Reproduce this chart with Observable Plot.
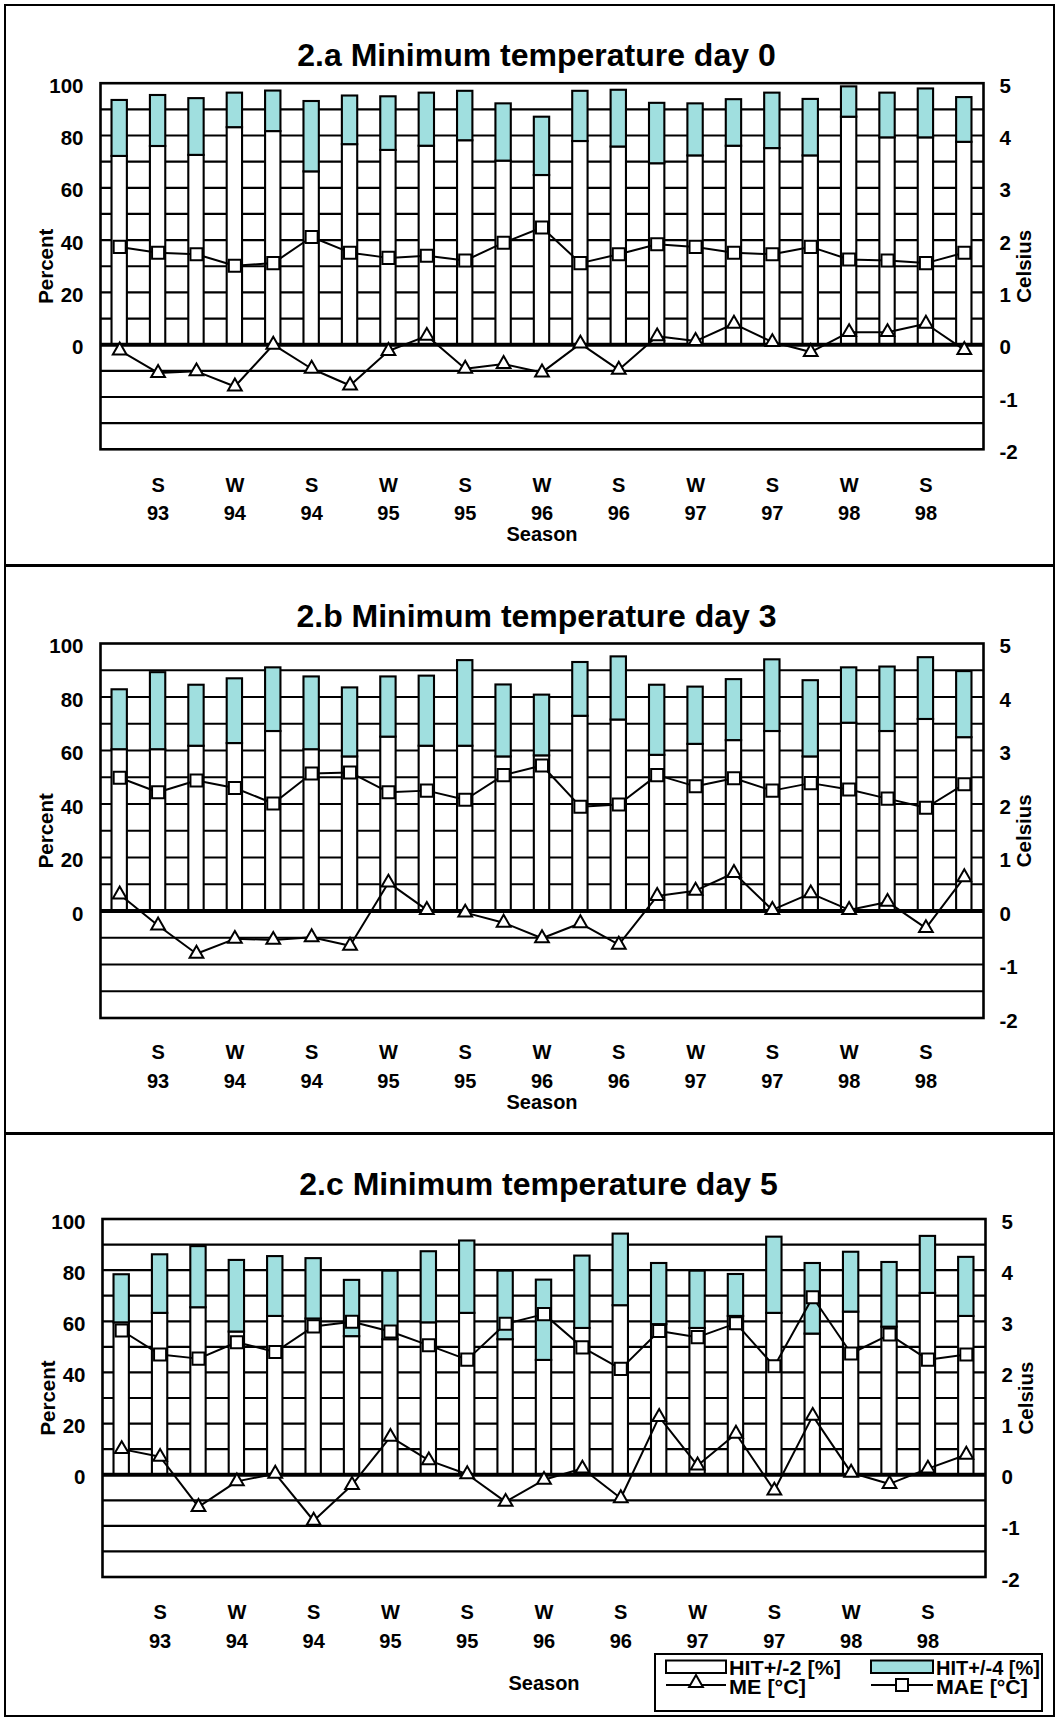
<!DOCTYPE html>
<html>
<head>
<meta charset="utf-8">
<script src="https://cdn.jsdelivr.net/npm/d3@7"></script>
<script src="https://cdn.jsdelivr.net/npm/@observablehq/plot@0.6"></script>
<style>
  body { margin: 0; background: #fff; }
  #page { position: relative; width: 1058px; height: 1719px; background: #fff;
          font-family: "Liberation Sans", Arial, sans-serif; font-weight: bold; }
  .box { position: absolute; border: 2px solid #000; box-sizing: border-box; pointer-events: none; }
  svg.chart { position: absolute; left: 0; }
</style>
</head>
<body>
<div id="page"></div>
<script>
// ---------- categories and tick labels ----------
const periods = ["P01","P02","P03","P04","P05","P06","P07","P08","P09","P10","P11","P12",
                 "P13","P14","P15","P16","P17","P18","P19","P20","P21","P22","P23"];
const labelPeriods = ["P02","P04","P06","P08","P10","P12","P14","P16","P18","P20","P22"];
const seasonLabels = ["S","W","S","W","S","W","S","W","S","W","S"];
const yearLabels   = ["93","94","94","95","95","96","96","97","97","98","98"];
const percentTicks = [0, 20, 40, 60, 80, 100];
const celsiusTicks = [-2, -1, 0, 1, 2, 3, 4, 5];
const gridPercent  = [-30, -20, -10, 10, 20, 30, 40, 50, 60, 70, 80, 90];
const percentPerDegree = 20; // right axis: 5 °C sits at 100 %

// ---------- 2.a Minimum temperature day 0 ----------
const hit4A = [93.4, 95.3, 94.1, 96.2, 97.0, 93.0, 95.1, 94.8, 96.2, 96.9, 92.1, 87.0,
               96.9, 97.3, 92.3, 92.1, 93.7, 96.2, 93.8, 98.6, 96.2, 97.8, 94.5];
const hit2A = [72.0, 75.8, 72.4, 83.0, 81.5, 66.1, 76.5, 74.3, 75.9, 78.0, 70.2, 64.7,
               77.7, 75.6, 69.2, 72.2, 75.9, 75.0, 72.2, 87.0, 79.1, 79.1, 77.4];
const maeA  = [1.87, 1.76, 1.73, 1.51, 1.56, 2.06, 1.76, 1.66, 1.70, 1.61, 1.95, 2.24,
               1.56, 1.73, 1.92, 1.87, 1.76, 1.73, 1.87, 1.63, 1.61, 1.56, 1.76];
const meA   = [-0.11, -0.54, -0.51, -0.80, 0.00, -0.46, -0.78, -0.12, 0.17, -0.46, -0.37, -0.53,
               0.02, -0.48, 0.16, 0.07, 0.40, 0.05, -0.14, 0.24, 0.24, 0.40, -0.10];

// ---------- 2.b Minimum temperature day 3 ----------
const hit4B = [82.7, 89.1, 84.4, 86.8, 90.9, 87.5, 83.4, 87.5, 87.8, 93.6, 84.5, 80.7,
               92.9, 95.0, 84.4, 83.7, 86.5, 93.9, 86.1, 90.9, 91.2, 94.7, 89.5];
const hit2B = [60.3, 60.3, 61.6, 62.6, 67.1, 60.3, 57.6, 65.0, 61.6, 61.6, 57.6, 58.0,
               72.8, 71.4, 58.2, 62.3, 63.7, 67.1, 57.6, 70.2, 67.1, 71.6, 64.8];
const maeB  = [2.49, 2.22, 2.44, 2.30, 2.01, 2.57, 2.59, 2.22, 2.25, 2.08, 2.54, 2.72,
               1.95, 1.99, 2.54, 2.33, 2.48, 2.25, 2.39, 2.27, 2.10, 1.93, 2.37];
const meB   = [0.31, -0.27, -0.80, -0.52, -0.54, -0.49, -0.65, 0.53, 0.02, -0.03, -0.22, -0.51,
               -0.23, -0.63, 0.28, 0.38, 0.71, 0.02, 0.33, 0.02, 0.17, -0.32, 0.63];

// ---------- 2.c Minimum temperature day 5 ----------
const hit4C = [78.2, 86.0, 89.2, 83.8, 85.3, 84.5, 76.0, 79.6, 87.2, 91.4, 79.6, 76.1,
               85.5, 94.1, 82.6, 79.6, 78.3, 92.9, 82.6, 87.0, 83.0, 93.2, 85.0];
const hit2C = [59.4, 63.1, 65.3, 55.8, 61.9, 60.9, 54.0, 52.8, 59.4, 63.1, 52.8, 44.7,
               57.2, 66.1, 58.7, 57.2, 61.9, 63.1, 55.0, 63.6, 57.7, 70.9, 61.9];
const maeC  = [2.82, 2.35, 2.27, 2.59, 2.40, 2.90, 2.99, 2.80, 2.53, 2.25, 2.95, 3.14,
               2.49, 2.07, 2.81, 2.69, 2.96, 2.12, 3.47, 2.37, 2.74, 2.25, 2.35];
const meC   = [0.50, 0.35, -0.63, -0.13, 0.02, -0.90, -0.20, 0.74, 0.28, 0.01, -0.53, -0.10,
               0.12, -0.46, 1.13, 0.18, 0.80, -0.31, 1.15, 0.04, -0.18, 0.12, 0.39];

const TEAL = "#a0dfdf";
const FONT = "'Liberation Sans', Arial, sans-serif";
const page = document.getElementById("page");

function drawPanel(cfg) {
  const rows = periods.map((p, i) => ({
    p, hit2: cfg.hit2[i], hit4: cfg.hit4[i],
    me: cfg.me[i] * percentPerDegree, mae: cfg.mae[i] * percentPerDegree
  }));
  const labels = labelPeriods.map((p, i) => ({p, s: seasonLabels[i], yr: yearLabels[i]}));
  const H = cfg.bottom - cfg.top;
  const mid = {lineAnchor: "middle", textAnchor: "middle"};
  const svg = Plot.plot({
    width: 1058, height: H,
    marginLeft: cfg.left, marginRight: 1058 - cfg.right,
    marginTop: cfg.plotTop - cfg.top, marginBottom: cfg.bottom - cfg.plotBottom,
    x: {type: "band", domain: periods, paddingInner: 0.6, paddingOuter: 0.3, round: false, axis: null},
    y: {domain: [-40, 100], axis: null},
    style: {fontFamily: FONT, fontWeight: "bold", fontSize: "20px", color: "#000", background: "none", overflow: "visible"},
    marks: [
      Plot.ruleY(gridPercent, {stroke: "#000", strokeWidth: 2.2, strokeOpacity: 1}),
      Plot.barY(rows, {x: "p", y1: 0, y2: "hit2", fill: "#fff", stroke: "#000", strokeWidth: 2.1}),
      Plot.barY(rows, {x: "p", y1: "hit2", y2: "hit4", fill: TEAL, stroke: "#000", strokeWidth: 2.1}),
      Plot.frame({stroke: "#000", strokeWidth: 2.6}),
      Plot.ruleY([0], {stroke: "#000", strokeWidth: 4, strokeOpacity: 1}),
      Plot.line(rows, {x: "p", y: "mae", stroke: "#000", strokeWidth: 2}),
      Plot.line(rows, {x: "p", y: "me", stroke: "#000", strokeWidth: 2}),
      Plot.dot(rows, {x: "p", y: "mae", symbol: "square", r: 6.8, fill: "#fff", stroke: "#000", strokeWidth: 2}),
      Plot.dot(rows, {x: "p", y: "me", symbol: "triangle", r: 5.1, fill: "#fff", stroke: "#000", strokeWidth: 2}),
      Plot.axisY(percentTicks, {anchor: "left", tickSize: 0, tickPadding: 17, dy: 3, fontSize: 20.5, label: null}),
      Plot.axisY(celsiusTicks.map(c => c * percentPerDegree), {anchor: "right", tickSize: 0, tickPadding: 16, dy: 3,
        fontSize: 20.5, label: null, tickFormat: d => String(d / percentPerDegree)}),
      Plot.text(labels, {x: "p", text: "s", frameAnchor: "bottom", dy: cfg.sDy, fontSize: 20, ...mid}),
      Plot.text(labels, {x: "p", text: "yr", frameAnchor: "bottom", dy: cfg.yDy, fontSize: 20, ...mid}),
      Plot.text(["Season"], {frameAnchor: "bottom", dy: cfg.seasonDy, fontSize: 20, ...mid}),
      Plot.text(["Percent"], {frameAnchor: "left", dx: -54, rotate: -90, fontSize: 20.5, ...mid}),
      Plot.text(["Celsius"], {frameAnchor: "right", dx: 41, rotate: -90, fontSize: 20.5, ...mid}),
      Plot.text([cfg.title], {frameAnchor: "top", dx: -5.5, dy: cfg.titleY - cfg.plotTop, fontSize: 32, ...mid})
    ]
  });
  svg.classList.add("chart");
  svg.style.top = cfg.top + "px";
  page.appendChild(svg);
}

drawPanel({title: "2.a Minimum temperature day 0", hit2: hit2A, hit4: hit4A, me: meA, mae: maeA,
  top: 5, bottom: 565, plotTop: 82.7, plotBottom: 448.8, left: 100, right: 983,
  titleY: 55, sDy: 36, yDy: 64.4, seasonDy: 85});
drawPanel({title: "2.b Minimum temperature day 3", hit2: hit2B, hit4: hit4B, me: meB, mae: maeB,
  top: 565, bottom: 1133, plotTop: 643, plotBottom: 1017.5, left: 100, right: 983,
  titleY: 616, sDy: 35, yDy: 63.5, seasonDy: 84.5});
drawPanel({title: "2.c Minimum temperature day 5", hit2: hit2C, hit4: hit4C, me: meC, mae: maeC,
  top: 1133, bottom: 1716, plotTop: 1218.5, plotBottom: 1576.5, left: 102, right: 985,
  titleY: 1184.5, sDy: 35.2, yDy: 64.8, seasonDy: 106.5});

// ---------- panel frames ----------
[[4, 562], [565, 569], [1133, 584]].forEach(([t, h]) => {
  const d = document.createElement("div");
  d.className = "box";
  d.style.cssText = `left:4px;top:${t}px;width:1051px;height:${h}px;`;
  page.appendChild(d);
});

// ---------- legend ----------
const legendItems = [
  {kind: "bar", fill: "#fff", label: "HIT+/-2 [%]", col: 0, len: 112},
  {kind: "bar", fill: TEAL, label: "HIT+/-4 [%]", col: 1, len: 104},
  {kind: "tri", label: "ME [°C]", col: 0, len: 77},
  {kind: "sq", label: "MAE [°C]", col: 1, len: 92}
];
const NS = "http://www.w3.org/2000/svg";
const lg = document.createElementNS(NS, "svg");
lg.setAttribute("width", 389); lg.setAttribute("height", 59);
lg.style.cssText = "position:absolute;left:654px;top:1653px;overflow:visible;";
function el(tag, attrs, parent) {
  const e = document.createElementNS(NS, tag);
  for (const k in attrs) e.setAttribute(k, attrs[k]);
  (parent || lg).appendChild(e); return e;
}
el("rect", {x: 1, y: 1, width: 387, height: 57, fill: "#fff", stroke: "#000", "stroke-width": 2});
legendItems.forEach(it => {
  const x0 = it.col === 0 ? 12 : 217;
  const sw = it.col === 0 ? 60 : 62;
  const tx = x0 + sw + 3;
  if (it.kind === "bar") {
    el("rect", {x: x0, y: 7.5, width: sw, height: 12.5, fill: it.fill, stroke: "#000", "stroke-width": 2});
    const t = el("text", {x: tx, y: 21.5, "font-size": 20, "font-family": FONT, "font-weight": "bold",
      textLength: it.len, lengthAdjust: "spacingAndGlyphs"});
    t.textContent = it.label;
  } else {
    el("line", {x1: x0, x2: x0 + sw, y1: 32, y2: 32, stroke: "#000", "stroke-width": 2});
    const cx = x0 + sw / 2;
    if (it.kind === "tri") {
      el("path", {d: d3.symbol(d3.symbolTriangle, 5.1 * 5.1 * Math.PI)(), transform: `translate(${cx},30)`,
        fill: "#fff", stroke: "#000", "stroke-width": 2});
    } else {
      el("rect", {x: cx - 6, y: 26, width: 12, height: 12, fill: "#fff", stroke: "#000", "stroke-width": 2});
    }
    const t = el("text", {x: tx, y: 40.5, "font-size": 20, "font-family": FONT, "font-weight": "bold",
      textLength: it.len, lengthAdjust: "spacingAndGlyphs"});
    t.textContent = it.label;
  }
});
page.appendChild(lg);
</script>
</body>
</html>
